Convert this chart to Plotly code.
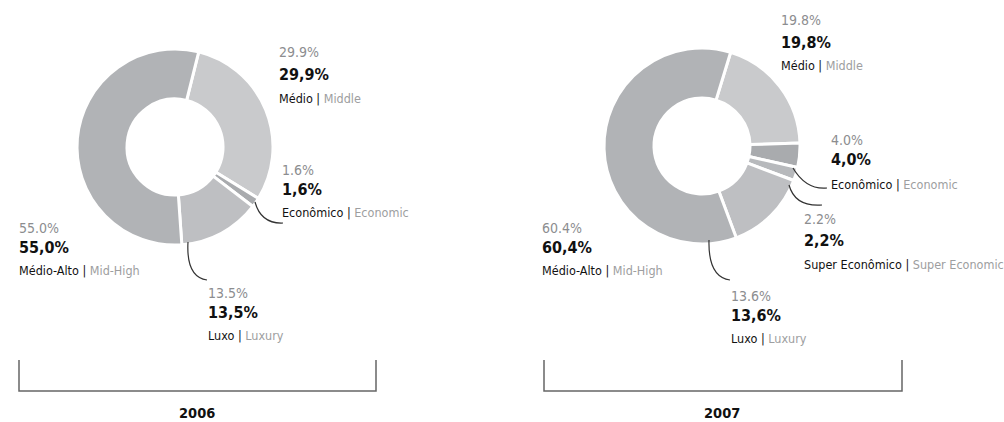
import plotly.graph_objects as go

W, H = 1004, 422

# ---- data ----
years = ["2006", "2007"]
cats_2006 = ["Médio", "Econômico", "Luxo", "Médio-Alto"]
en_2006 = ["Middle", "Economic", "Luxury", "Mid-High"]
vals_2006 = [29.9, 1.6, 13.5, 55.0]

cats_2007 = ["Médio", "Econômico", "Super Econômico", "Luxo", "Médio-Alto"]
en_2007 = ["Middle", "Economic", "Super Economic", "Luxury", "Mid-High"]
vals_2007 = [19.8, 4.0, 2.2, 13.6, 60.4]

# ---- styling ----
colors = {
    "Médio": "#c9cacc",
    "Econômico": "#a9abae",
    "Super Econômico": "#b7b9bc",
    "Luxo": "#bebfc2",
    "Médio-Alto": "#b1b3b6",
}
FONT = "'DejaVu Sans Condensed', 'Liberation Sans Narrow', 'Arial Narrow', sans-serif"
GRAY = "#8c8d8f"
LGRAY = "#9d9ea0"
BLACK = "#111111"


def px(x, y):
    return x / W, 1 - y / H


def dom(cx, cy, r):
    return dict(x=[(cx - r) / W, (cx + r) / W], y=[1 - (cy + r) / H, 1 - (cy - r) / H])


fig = go.Figure()

charts = [
    (cats_2006, en_2006, vals_2006, (175, 147, 98), 14),
    (cats_2007, en_2007, vals_2007, (702, 146, 98), 17),
]
for cats, en, vals, (cx, cy, r), rot in charts:
    fig.add_trace(go.Pie(
        labels=cats, values=vals, sort=False, direction="clockwise", rotation=rot,
        hole=0.49, textinfo="none", hoverinfo="label+percent",
        marker=dict(colors=[colors[c] for c in cats], line=dict(color="white", width=3)),
        domain=dom(cx, cy, r), showlegend=False,
    ))

# label positions (left x, y of the three lines)
label_pos_2006 = {
    "Médio": (279, [52, 74, 98]),
    "Econômico": (282, [170, 189, 212]),
    "Luxo": (208, [293, 312, 335]),
    "Médio-Alto": (19, [228, 247, 270]),
}
label_pos_2007 = {
    "Médio": (781, [20, 42, 66]),
    "Econômico": (831, [140, 160, 184]),
    "Super Econômico": (804, [219, 240, 264]),
    "Luxo": (731, [296, 315, 338]),
    "Médio-Alto": (542, [228, 247, 270]),
}

for cats, en, vals, pos in [
    (cats_2006, en_2006, vals_2006, label_pos_2006),
    (cats_2007, en_2007, vals_2007, label_pos_2007),
]:
    for c, e, v in zip(cats, en, vals):
        x0, ys = pos[c]
        lines = [
            (f"{v:.1f}%", dict(family=FONT, size=14, color=GRAY)),
            (f"<b>{v:.1f}%</b>".replace(".", ","), dict(family=FONT, size=16, color=BLACK)),
            (f"{c} | <span style='color:{LGRAY}'>{e}</span>", dict(family=FONT, size=12.5, color=BLACK)),
        ]
        for (txt, f), y in zip(lines, ys):
            ax, ay = px(x0, y)
            fig.add_annotation(x=ax, y=ay, xref="paper", yref="paper", text=txt,
                               showarrow=False, xanchor="left", yanchor="middle",
                               font=f, xshift=-2)

# leader lines (pixel coordinates converted to paper)
leaders = [
    [(255, 202), (261, 224), (283, 223)],
    [(188, 242), (186, 277), (207, 280)],
    [(793, 168), (806, 190), (827, 188)],
    [(789, 185), (795, 207), (822, 205)],
    [(709, 240), (708, 277), (730, 280)],
]
for (a, b, c) in leaders:
    pa, pb, pc = px(*a), px(*b), px(*c)
    fig.add_shape(type="path", xref="paper", yref="paper",
                  path=f"M {pa[0]} {pa[1]} Q {pb[0]} {pb[1]} {pc[0]} {pc[1]}",
                  line=dict(color="#333333", width=1.2))

# brackets + years
brackets = [(19, 376, 197), (544, 902, 722)]
for (xl, xr, xc), yr in zip(brackets, years):
    p1, p2, p3, p4 = px(xl, 360), px(xl, 391), px(xr, 391), px(xr, 360)
    fig.add_shape(type="path", xref="paper", yref="paper",
                  path=f"M {p1[0]} {p1[1]} L {p2[0]} {p2[1]} L {p3[0]} {p3[1]} L {p4[0]} {p4[1]}",
                  line=dict(color="#666666", width=1.5))
    ax, ay = px(xc, 413)
    fig.add_annotation(x=ax, y=ay, xref="paper", yref="paper", text=f"<b>{yr}</b>",
                       showarrow=False, xanchor="center", yanchor="middle",
                       font=dict(family=FONT, size=14.5, color=BLACK))

fig.update_layout(width=W, height=H, margin=dict(l=0, r=0, t=0, b=0),
                  paper_bgcolor="white", plot_bgcolor="white")
fig.write_html("out.html", config={"displayModeBar": False},
               post_script="document.body.style.margin='0';document.body.style.overflow='hidden';")
